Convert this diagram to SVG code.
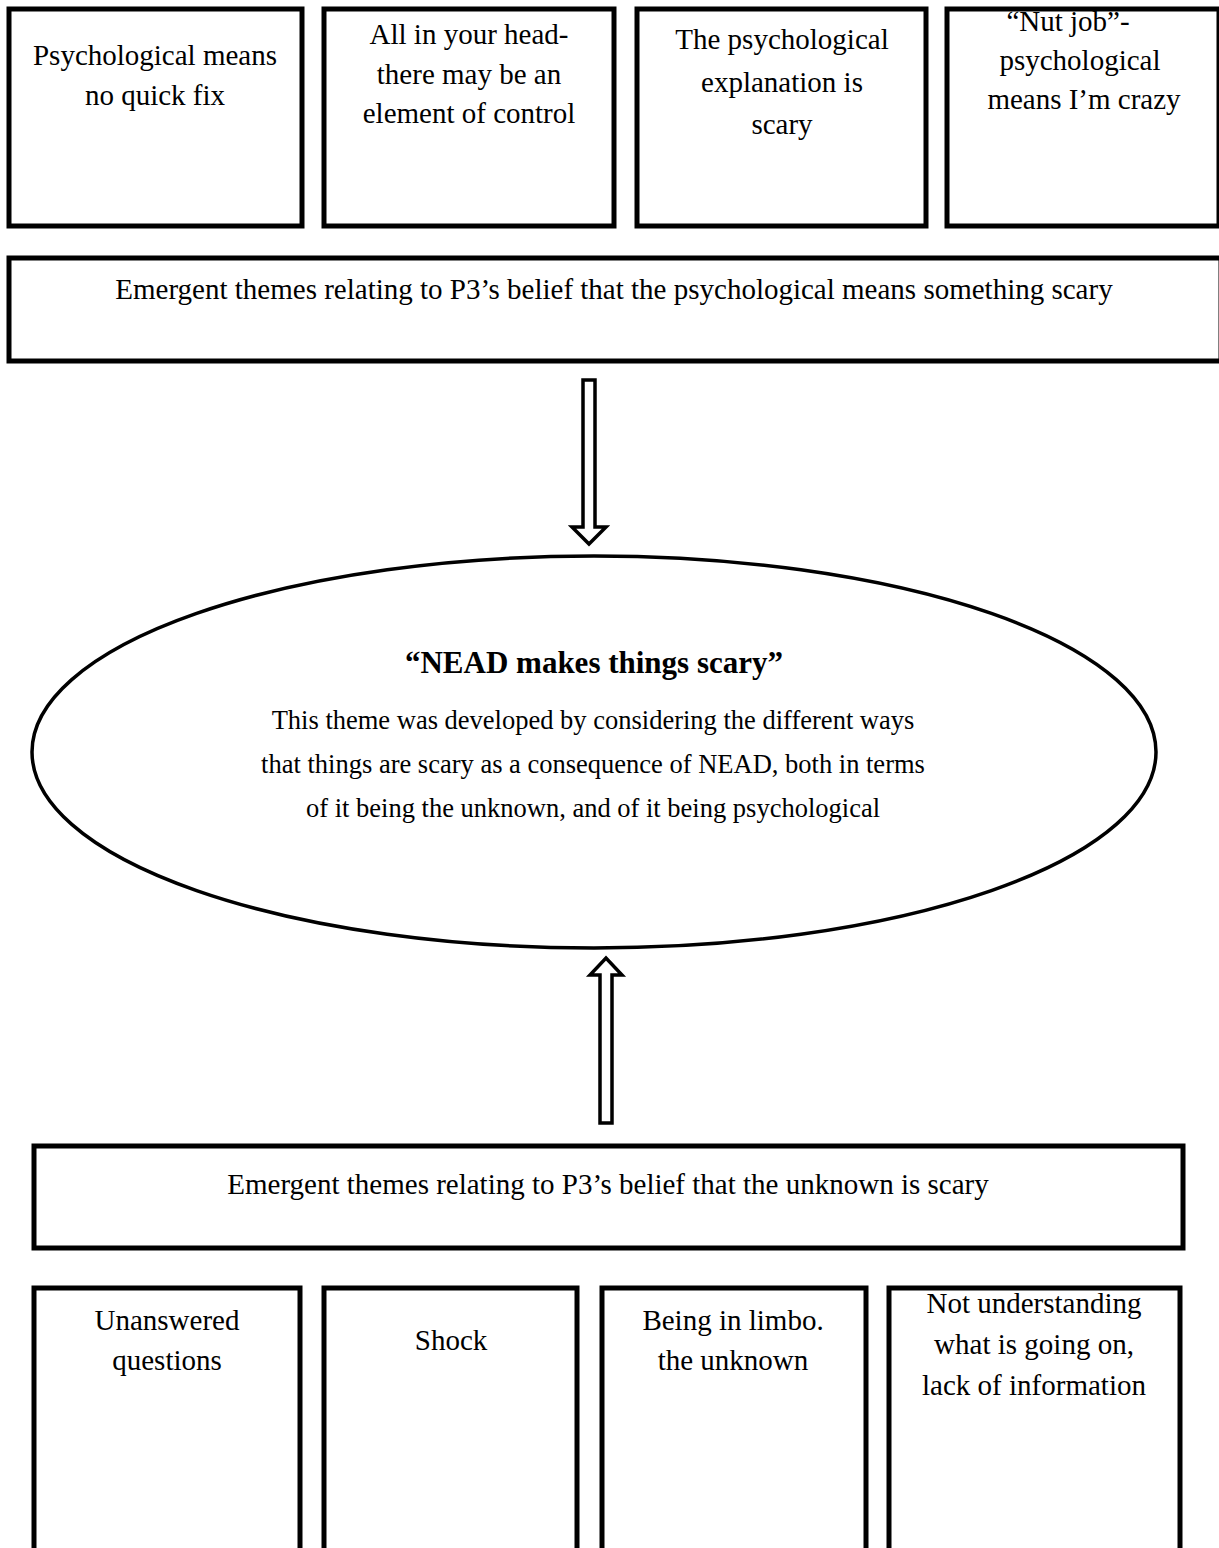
<svg xmlns="http://www.w3.org/2000/svg" width="1219" height="1548" viewBox="0 0 1219 1548">
<style>
.box{fill:#fff;stroke:#000;stroke-width:5}
.t{font-family:"Liberation Serif","Times New Roman",serif;font-size:29px;fill:#000;text-anchor:middle}
.e{font-size:26.5px}
.b{font-weight:bold;font-size:31px}
.arr{fill:#fff;stroke:#000;stroke-width:3.5;stroke-linejoin:miter}
</style>
<rect width="1219" height="1548" fill="#fff"/>
<g id="top1"><rect class="box" x="9" y="9" width="293" height="217"/>
<text class="t" x="155" y="65">Psychological means</text><text class="t" x="155" y="105">no quick fix</text></g>
<g id="top2"><rect class="box" x="324" y="9" width="290" height="217"/>
<text class="t" x="469" y="44">All in your head-</text><text class="t" x="469" y="84">there may be an</text><text class="t" x="469" y="123">element of control</text></g>
<g id="top3"><rect class="box" x="637" y="9" width="289" height="217"/>
<text class="t" x="782" y="49">The psychological</text><text class="t" x="782" y="92">explanation  is</text><text class="t" x="782" y="134">scary</text></g>
<g id="top4"><rect class="box" x="947" y="9" width="272" height="217"/>
<text class="t" x="1068" y="31">“Nut job”-</text><text class="t" x="1080" y="70">psychological</text><text class="t" x="1084" y="109">means I’m crazy</text></g>
<g id="wide1"><rect class="box" x="9" y="258" width="1212" height="103"/>
<text class="t" x="614" y="299">Emergent themes relating to P3’s belief that the psychological means something scary</text></g>
<g id="center"><ellipse cx="594" cy="752" rx="562" ry="196" fill="#fff" stroke="#000" stroke-width="3.5"/>
<text class="t b" x="594" y="673">“NEAD makes things scary”</text>
<text class="t e" x="593" y="729">This theme was developed by considering the different ways</text>
<text class="t e" x="593" y="773">that things are scary as a consequence of NEAD, both in terms</text>
<text class="t e" x="593" y="817">of it being the unknown, and of it being psychological</text></g>
<g id="wide2"><rect class="box" x="34" y="1146" width="1149" height="102"/>
<text class="t" x="608" y="1194">Emergent themes relating to P3’s belief that the unknown is scary</text></g>
<g id="bot1"><rect class="box" x="34" y="1288" width="266" height="270"/>
<text class="t" x="167" y="1330">Unanswered</text><text class="t" x="167" y="1370">questions</text></g>
<g id="bot2"><rect class="box" x="324" y="1288" width="253" height="270"/>
<text class="t" x="451" y="1350">Shock</text></g>
<g id="bot3"><rect class="box" x="602" y="1288" width="264" height="270"/>
<text class="t" x="733" y="1330">Being in limbo.</text><text class="t" x="733" y="1370">the unknown</text></g>
<g id="bot4"><rect class="box" x="889" y="1288" width="291" height="270"/>
<text class="t" x="1034" y="1313">Not understanding</text><text class="t" x="1034" y="1354">what is going on,</text><text class="t" x="1034" y="1395">lack of information</text></g>
<g id="connectors">
<path class="arr" d="M583,380 H595 V527 H606 L589,544 L572,527 H583 Z"/>
<path class="arr" d="M600,1123 H612 V975 H622 L606,958 L590,975 H600 Z"/>
</g>
</svg>
